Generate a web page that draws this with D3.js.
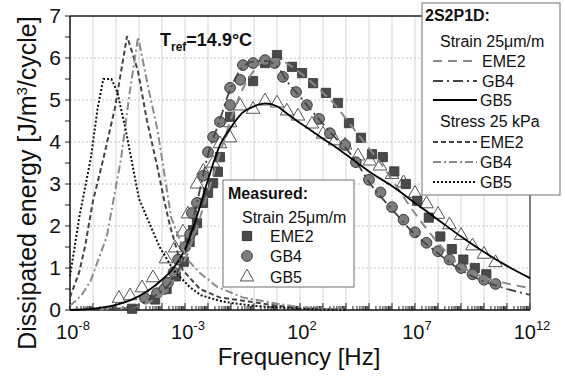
<!DOCTYPE html>
<html>
<head>
<meta charset="utf-8">
<script src="https://cdn.jsdelivr.net/npm/d3@7"></script>
<style>
  body { margin: 0; background: #fff; }
  text { font-family: "Liberation Sans", Arial, sans-serif; }
</style>
</head>
<body>
<div id="chart-area"></div>
<script>
// values are [log10(frequency), dissipated energy]
// 2S2P1D model, stress controlled 25 kPa
const stressEME2 = [[-8,0.3],[-7.6,0.9],[-7.35,1.5],[-7.0,2.6],[-6.55,3.6],[-6.05,4.8],[-5.52,6.52],[-5.05,5.7],[-4.65,4.5],[-4.2,3.4],[-3.9,2.6],[-3.65,2.0],[-3.1,0.95],[-2.35,0.5],[-1.5,0.3],[-0.2,0.2],[1,0.1],[2,0.05],[3,0.02],[4,0.01]];
const stressGB4 = [[-8,0.1],[-7.5,0.35],[-7.1,0.7],[-6.4,1.75],[-6.05,2.8],[-5.78,3.6],[-5.4,5.2],[-5.04,6.5],[-4.6,5.3],[-4.2,4.3],[-4.0,3.6],[-3.6,2.2],[-2.9,1.2],[-2.35,0.88],[-1.6,0.55],[-0.5,0.3],[1,0.15],[2,0.07],[3,0.03],[4,0.01]];
const stressGB5 = [[-8,0.8],[-7.6,2.2],[-7.1,3.6],[-6.8,4.8],[-6.55,5.5],[-6.2,5.5],[-5.95,5.2],[-5.6,4.35],[-5.3,3.5],[-5.0,2.65],[-4.5,2.0],[-4.1,1.5],[-3.5,0.95],[-2.8,0.55],[-2.3,0.35],[-1.5,0.22],[-0.9,0.16],[0,0.1],[1,0.06],[2,0.03],[3,0.01],[4,0]];

// 2S2P1D model, strain controlled 25 um/m
const strainEME2 = [[-8,0],[-6,0.03],[-5,0.1],[-4.5,0.2],[-4,0.38],[-3.5,0.7],[-3,1.2],[-2.5,1.95],[-2,2.8],[-1.5,3.7],[-1,4.55],[-0.5,5.25],[0,5.7],[0.5,5.95],[1,5.97],[1.5,5.85],[2,5.65],[2.5,5.42],[3,5.17],[3.5,4.9],[4,4.55],[4.5,4.2],[5,3.85],[5.5,3.5],[6,3.1],[7,2.3],[8,1.6],[9,1.05],[10,0.78],[11,0.63],[12,0.52]];
const strainGB4 = [[-8,0],[-6,0.03],[-5,0.12],[-4.5,0.28],[-4,0.45],[-3.5,0.75],[-3,1.35],[-2.5,2.5],[-2,3.7],[-1.5,4.5],[-1,5.3],[-0.5,5.78],[0,5.92],[0.5,5.93],[1,5.8],[1.5,5.4],[2,5.08],[2.5,4.75],[3,4.43],[3.5,4.12],[4,3.85],[4.5,3.48],[5,3.05],[6,2.4],[7,1.8],[8,1.35],[9,0.95],[10,0.68],[11,0.5],[12,0.36]];
const strainGB5 = [[-8,0],[-7,0.03],[-6,0.12],[-5,0.33],[-4.5,0.5],[-4,0.72],[-3.5,1.0],[-3,1.45],[-2.5,2.2],[-2,3.1],[-1.5,3.9],[-1,4.35],[-0.5,4.7],[0,4.85],[0.5,4.92],[1,4.85],[1.5,4.65],[2,4.45],[2.5,4.27],[3,4.08],[3.5,3.9],[4,3.7],[4.5,3.5],[5,3.3],[6,2.95],[7,2.55],[8,2.15],[9,1.75],[10,1.38],[11,1.05],[12,0.76]];

// measured, strain 25 um/m
const measEME2 = [[-5.3,0.03],[-4.3,0.25],[-3.8,0.5],[-3.4,0.8],[-3.05,1.15],[-2.8,1.62],[-2.65,1.9],[-2.48,2.07],[-2.22,2.55],[-2.0,2.79],[-1.78,3.02],[-1.57,3.29],[-1.48,3.64],[-1.04,4.6],[-0.04,5.45],[0.48,5.88],[1.0,6.07],[1.65,5.79],[2.09,5.64],[2.57,5.4],[3.13,5.17],[3.65,4.93],[4.13,4.45],[4.65,4.1],[5.13,3.71],[5.6,3.64],[6.1,3.3],[6.6,3.0],[7.1,2.6],[7.6,2.2],[8.1,1.75],[8.6,1.45],[9.1,1.2],[9.6,1.0],[10.1,0.85]];
const measGB4 = [[-4.74,0.28],[-4.22,0.4],[-3.9,0.5],[-3.74,0.65],[-3.5,0.9],[-3.3,1.2],[-3.0,1.5],[-2.78,1.8],[-2.7,2.31],[-2.48,2.55],[-2.2,3.2],[-2.0,3.76],[-1.78,4.12],[-1.48,4.48],[-1.04,4.88],[-1.04,5.29],[-0.6,5.48],[-0.48,5.83],[-0.04,5.88],[0.48,5.95],[0.9,5.88],[1.26,5.55],[1.83,5.19],[2.3,4.88],[2.83,4.55],[3.3,4.21],[3.96,3.93],[4.43,3.52],[5.0,3.1],[5.5,2.8],[6.0,2.45],[6.5,2.15],[7.0,1.85],[7.5,1.6],[8.0,1.4],[8.5,1.2],[9.0,1.0],[9.5,0.85],[10.0,0.72],[10.5,0.62]];
const measGB5 = [[-5.87,0.3],[-5.39,0.36],[-4.87,0.55],[-4.39,0.79],[-3.83,1.24],[-3.43,1.5],[-3.09,1.88],[-2.87,2.31],[-2.48,3.02],[-2.2,3.33],[-1.78,3.52],[-1.48,3.98],[-1.04,4.12],[-1.04,4.48],[-0.6,4.88],[-0.04,4.8],[0.48,5.0],[1.0,4.95],[1.43,4.76],[1.91,4.64],[2.52,4.45],[3.0,4.21],[3.52,4.05],[3.96,3.95],[4.52,3.69],[5.04,3.57],[5.48,3.45],[6.0,3.25],[6.5,3.05],[7.0,2.8],[7.5,2.55],[8.0,2.3],[8.5,2.05],[9.0,1.8],[9.5,1.55],[10.0,1.35],[10.5,1.15]];

const xTickExps = [-8, -3, 2, 7, 12];
const yTicks = [0, 1, 2, 3, 4, 5, 6, 7];

const W = 565, H = 378;
const margin = { top: 16, right: 35, bottom: 68, left: 70 };

const svg = d3.select("#chart-area").append("svg")
    .attr("width", W)
    .attr("height", H);

const x = d3.scaleLog().domain([1e-8, 1e12]).range([margin.left, W - margin.right]);
const y = d3.scaleLinear().domain([0, 7]).range([H - margin.bottom, margin.top]);
const px = d => x(Math.pow(10, d[0]));
const py = d => y(d[1]);

const x0 = x.range()[0], x1 = x.range()[1];
const y0 = y.range()[0], y1 = y.range()[1];

// grid
let decades = d3.range(-7, 12);
svg.append("g").selectAll("line").data(decades).enter().append("line")
    .attr("x1", k => x(Math.pow(10, k))).attr("x2", k => x(Math.pow(10, k)))
    .attr("y1", y0).attr("y2", y1)
    .attr("stroke", "#d6d6d6").attr("stroke-width", 1);

svg.append("g").selectAll("line").data(d3.range(1, 7)).enter().append("line")
    .attr("x1", x0).attr("x2", x1)
    .attr("y1", v => y(v)).attr("y2", v => y(v))
    .attr("stroke", "#c4c4c4").attr("stroke-width", 1)
    .attr("stroke-dasharray", "2,2");

// x ticks (log minor ticks pointing in)
let xt = [];
d3.range(-8, 12).forEach(k => {
    for (let m = 1; m < 10; m++) xt.push({ v: m * Math.pow(10, k), major: m === 1 });
});
xt.push({ v: 1e12, major: true });
svg.append("g").selectAll("line").data(xt).enter().append("line")
    .attr("x1", d => x(d.v)).attr("x2", d => x(d.v))
    .attr("y1", y0).attr("y2", d => y0 - (d.major ? 7 : 4))
    .attr("stroke", "#222").attr("stroke-width", 1);

// y ticks
svg.append("g").selectAll("line").data(d3.range(0, 7.01, 0.5)).enter().append("line")
    .attr("x1", x0 - 5).attr("x2", x0)
    .attr("y1", v => y(v)).attr("y2", v => y(v))
    .attr("stroke", "#222").attr("stroke-width", 1);

// frame
svg.append("line").attr("x1", x0).attr("x2", x1).attr("y1", y1).attr("y2", y1)
    .attr("stroke", "#555").attr("stroke-width", 2);
svg.append("line").attr("x1", x1).attr("x2", x1).attr("y1", y1).attr("y2", y0)
    .attr("stroke", "#555").attr("stroke-width", 1.5);
svg.append("line").attr("x1", x0).attr("x2", x0).attr("y1", y1).attr("y2", y0)
    .attr("stroke", "#111").attr("stroke-width", 1.5);
svg.append("line").attr("x1", x0).attr("x2", x1).attr("y1", y0).attr("y2", y0)
    .attr("stroke", "#111").attr("stroke-width", 1.5);

// tick labels
svg.append("g").selectAll("text").data(yTicks).enter().append("text")
    .attr("x", x0 - 9).attr("y", v => y(v) + 6.5)
    .attr("text-anchor", "end")
    .attr("font-size", 21).attr("fill", "#111")
    .text(v => v);

let xl = svg.append("g").selectAll("text").data(xTickExps).enter().append("text")
    .attr("x", k => x(Math.pow(10, k)) + (k < 0 ? 3 : 2)).attr("y", 339)
    .attr("text-anchor", "middle")
    .attr("font-size", 20).attr("fill", "#111");
xl.append("tspan").text("10");
xl.append("tspan").attr("dy", -9).attr("font-size", 13).text(k => k);

// axis titles
svg.append("text")
    .attr("x", 299).attr("y", 365)
    .attr("text-anchor", "middle")
    .attr("font-size", 24).attr("fill", "#111")
    .text("Frequency [Hz]");

let yl = svg.append("text")
    .attr("transform", "translate(36,183) rotate(-90)")
    .attr("text-anchor", "middle")
    .attr("font-size", 25).attr("fill", "#111");
yl.append("tspan").text("Dissipated energy [J/m");
yl.append("tspan").attr("dy", -9).attr("font-size", 15).text("3");
yl.append("tspan").attr("dy", 9).text("/cycle]");

// T_ref annotation
let tr = svg.append("text").attr("x", 160).attr("y", 46)
    .attr("font-size", 18).attr("font-weight", "bold").attr("fill", "#111");
tr.append("tspan").text("T");
tr.append("tspan").attr("dy", 5).attr("font-size", 12).text("ref");
tr.append("tspan").attr("dy", -5).text("=14.9°C");

// measured markers
const sq = d3.symbol().type(d3.symbolSquare).size(85);
const ci = d3.symbol().type(d3.symbolCircle).size(90);
const tri = d3.symbol().type(d3.symbolTriangle).size(80);

const marks = svg.append("g");
marks.selectAll(".tri").data(measGB5).enter().append("path")
    .attr("d", tri).attr("transform", d => "translate(" + px(d) + "," + (py(d) + 1) + ")")
    .attr("fill", "#fff").attr("stroke", "#555").attr("stroke-width", 1);
marks.selectAll(".sq").data(measEME2).enter().append("path")
    .attr("d", sq).attr("transform", d => "translate(" + px(d) + "," + py(d) + ")")
    .attr("fill", "#4a4a4a").attr("stroke", "#333").attr("stroke-width", 0.8);
marks.selectAll(".ci").data(measGB4).enter().append("path")
    .attr("d", ci).attr("transform", d => "translate(" + px(d) + "," + py(d) + ")")
    .attr("fill", "#7d7d7d").attr("stroke", "#3a3a3a").attr("stroke-width", 1);

// model curves
const lineLin = d3.line().x(px).y(py);
const lineSmooth = d3.line().x(px).y(py).curve(d3.curveMonotoneX);

const curves = [
    { data: strainEME2, gen: lineSmooth, color: "#8a8a8a", dash: "9,6", w: 2 },
    { data: strainGB4, gen: lineSmooth, color: "#444", dash: "10,4,2,4", w: 1.8 },
    { data: strainGB5, gen: lineSmooth, color: "#000", dash: null, w: 1.8 },
    { data: stressEME2, gen: lineLin, color: "#444", dash: "5,3", w: 2 },
    { data: stressGB4, gen: lineLin, color: "#8a8a8a", dash: "8,3,2,3", w: 2 },
    { data: stressGB5, gen: lineLin, color: "#111", dash: "2,2", w: 2 }
];
svg.append("g").selectAll("path").data(curves).enter().append("path")
    .attr("d", c => c.gen(c.data))
    .attr("fill", "none")
    .attr("stroke", c => c.color)
    .attr("stroke-width", c => c.w)
    .attr("stroke-dasharray", c => c.dash);

// legend: 2S2P1D
const leg = svg.append("g");
leg.append("rect").attr("x", 422).attr("y", 3).attr("width", 138).attr("height", 192)
    .attr("fill", "#fff").attr("stroke", "#888").attr("stroke-width", 1.2);
leg.append("text").attr("x", 425).attr("y", 21).attr("font-size", 16).attr("font-weight", "bold")
    .attr("fill", "#111").text("2S2P1D:");
const legRows = [
    { label: "Strain 25μm/m", y: 47, head: true },
    { label: "EME2", y: 67, c: curves[0], x: 482 },
    { label: "GB4", y: 87, c: curves[1], x: 482 },
    { label: "GB5", y: 106, c: curves[2], x: 480 },
    { label: "Stress 25 kPa", y: 127, head: true },
    { label: "EME2", y: 148, c: curves[3], x: 480 },
    { label: "GB4", y: 168, c: curves[4], x: 480 },
    { label: "GB5", y: 188, c: curves[5], x: 480 }
];
legRows.forEach(r => {
    leg.append("text").attr("x", r.head ? 440 : r.x).attr("y", r.y)
        .attr("font-size", 16).attr("fill", "#111").text(r.label);
    if (!r.head) {
        leg.append("line").attr("x1", 433).attr("x2", 477)
            .attr("y1", r.y - 6).attr("y2", r.y - 6)
            .attr("stroke", r.c.color).attr("stroke-width", r.c.w)
            .attr("stroke-dasharray", r.c.dash);
    }
});

// legend: measured
const leg2 = svg.append("g");
leg2.append("rect").attr("x", 223).attr("y", 180).attr("width", 131).attr("height", 107)
    .attr("fill", "#fff").attr("stroke", "#888").attr("stroke-width", 1.2);
leg2.append("text").attr("x", 228).attr("y", 199).attr("font-size", 16).attr("font-weight", "bold")
    .attr("fill", "#111").text("Measured:");
leg2.append("text").attr("x", 242).attr("y", 223).attr("font-size", 16)
    .attr("fill", "#111").text("Strain 25μm/m");
const mRows = [
    { label: "EME2", y: 236, sym: sq, fill: "#4a4a4a", stroke: "#333" },
    { label: "GB4", y: 256, sym: ci, fill: "#7d7d7d", stroke: "#3a3a3a" },
    { label: "GB5", y: 277, sym: tri, fill: "#fff", stroke: "#555" }
];
mRows.forEach(r => {
    leg2.append("path").attr("d", r.sym).attr("transform", "translate(247," + r.y + ")")
        .attr("fill", r.fill).attr("stroke", r.stroke);
    leg2.append("text").attr("x", 270).attr("y", r.y + 6).attr("font-size", 16)
        .attr("fill", "#111").text(r.label);
});
</script>
</body>
</html>
